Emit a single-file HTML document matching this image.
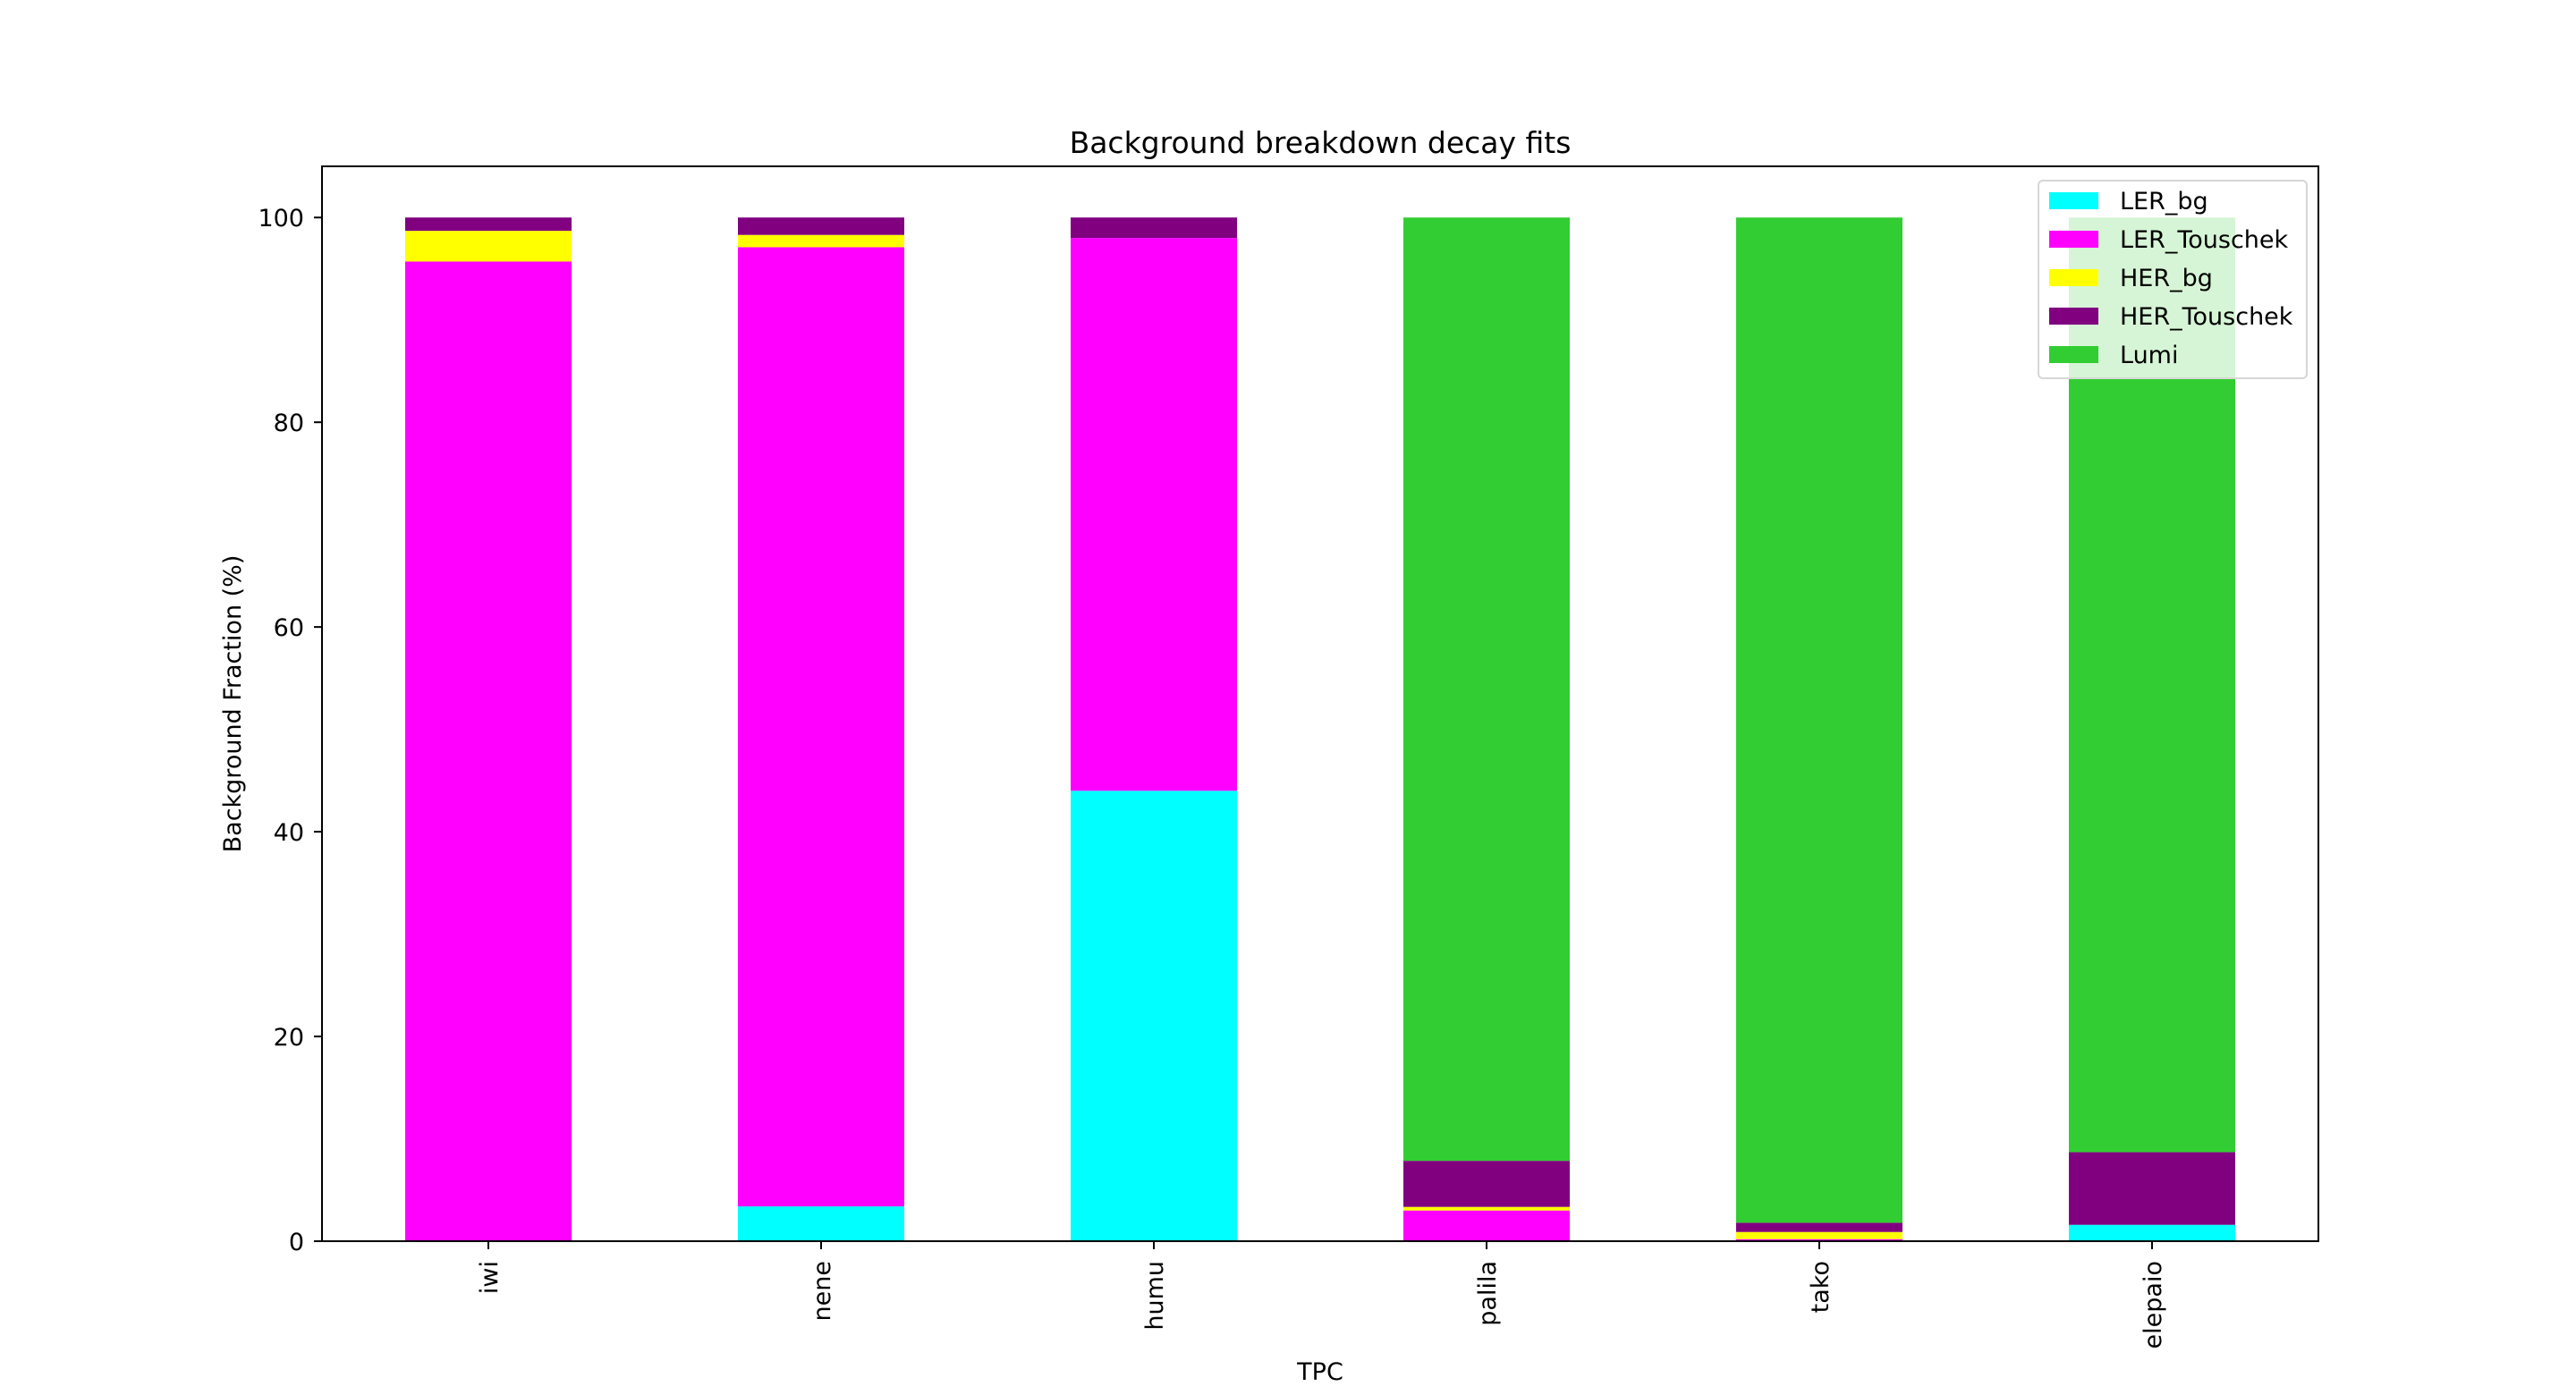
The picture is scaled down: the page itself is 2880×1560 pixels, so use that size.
<!DOCTYPE html>
<html><head><meta charset="utf-8"><style>
html,body{margin:0;padding:0;background:#fff;}
svg{display:block;font-family:"DejaVu Sans","Liberation Sans",sans-serif;}
</style></head><body>
<svg id="chart" width="2880" height="1560" viewBox="0 0 2880 1560" xmlns="http://www.w3.org/2000/svg">
<rect width="2880" height="1560" fill="#fff"/>
<g id="bars"></g>
<g id="axes"></g>
<g id="legend"></g>
</svg>
<script>
const categories = ["iwi","nene","humu","palila","tako","elepaio"];
const seriesNames = ["LER_bg","LER_Touschek","HER_bg","HER_Touschek","Lumi"];
const seriesColors = ["#00ffff","#ff00ff","#ffff00","#800080","#32cd32"];
const lerBg = [0, 3.4, 44.0, 0, 0, 1.6];
const lerTouschek = [95.7, 93.7, 54.0, 3.0, 0.2, 0];
const herBg = [3.0, 1.2, 0, 0.35, 0.7, 0];
const herTouschek = [1.3, 1.7, 2.0, 4.5, 0.9, 7.1];
const lumi = [0, 0, 0, 92.15, 98.2, 91.3];
const yTicks = [0, 20, 40, 60, 80, 100];

const NS = "http://www.w3.org/2000/svg";
const L = 360, R = 2592, T = 186, B = 1388, yMax = 105;
const FS = 27;
const xScale = i => L + (i + 0.5) * (R - L) / categories.length;
const yScale = v => B - v * (B - T) / yMax;
const bw = 0.5 * (R - L) / categories.length;
function mk(tag, attrs, parent){const e=document.createElementNS(NS,tag);for(const k in attrs)e.setAttribute(k,attrs[k]);parent.appendChild(e);return e;}

const series = [lerBg, lerTouschek, herBg, herTouschek, lumi];
const gb = document.getElementById('bars');
categories.forEach((c, i) => {
  let base = 0;
  series.forEach((s, si) => {
    const v = s[i];
    if (v > 0) {
      const r = mk('rect', {x: xScale(i) - bw/2, y: yScale(base + v), width: bw, height: yScale(base) - yScale(base + v), fill: seriesColors[si]}, gb);
      
      
    }
    base += v;
  });
});

const ga = document.getElementById('axes');
const frame = mk('rect', {x: L, y: T, width: R - L, height: B - T, fill: 'none', stroke: '#000', 'stroke-width': 2}, ga);


yTicks.forEach(t => {
  const y = yScale(t);
  mk('line', {x1: L - 9, x2: L, y1: y, y2: y, stroke: '#000', 'stroke-width': 2}, ga);
  const tx = mk('text', {x: L - 20, y: y + 10, 'text-anchor': 'end', 'font-size': FS}, ga);
  tx.textContent = t;
  
  
});
categories.forEach((c, i) => {
  const x = xScale(i);
  mk('line', {x1: x, x2: x, y1: B, y2: B + 9, stroke: '#000', 'stroke-width': 2}, ga);
  const tx = mk('text', {x: 0, y: 0, 'text-anchor': 'end', 'font-size': FS, transform: `translate(${x + 10},${B + 22}) rotate(-90)`}, ga);
  tx.textContent = c;
  
  
});
const title = mk('text', {x: (L + R) / 2, y: 171, 'text-anchor': 'middle', 'font-size': 33}, ga);
title.textContent = 'Background breakdown decay fits';


const xl = mk('text', {x: (L + R) / 2, y: 1543, 'text-anchor': 'middle', 'font-size': FS}, ga);
xl.textContent = 'TPC';


const yl = mk('text', {x: 0, y: 0, 'text-anchor': 'middle', 'font-size': FS, transform: `translate(269,${(T + B) / 2}) rotate(-90)`}, ga);
yl.textContent = 'Background Fraction (%)';



const gl = document.getElementById('legend');
const box = mk('rect', {x: 2279, y: 202, width: 300, height: 221, rx: 5, fill: 'rgba(255,255,255,0.8)', stroke: '#d6d6d6', 'stroke-width': 2}, gl);


seriesNames.forEach((n, si) => {
  const cy = 224 + si * 43;
  const p = mk('rect', {x: 2291, y: cy - 9, width: 55, height: 19, fill: seriesColors[si]}, gl);
  
  
  const t = mk('text', {x: 2370, y: cy + 10, 'font-size': FS}, gl);
  t.textContent = n;
  
  
});
</script>
</body></html>
